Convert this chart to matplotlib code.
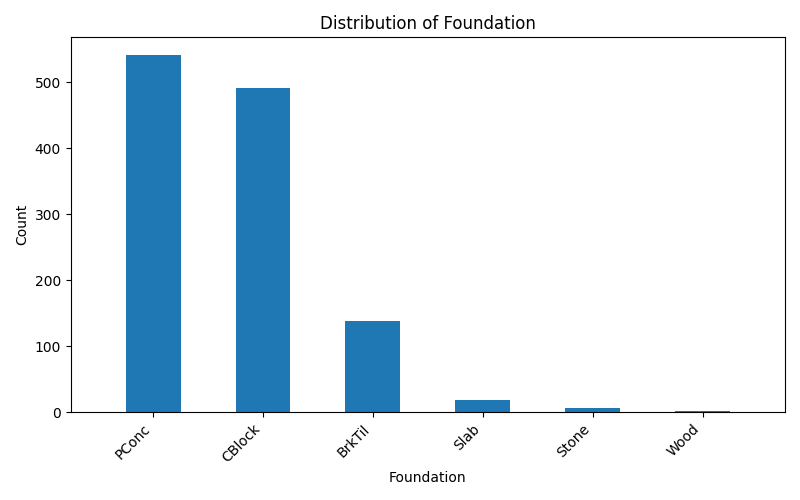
import matplotlib
matplotlib.use("Agg")
import matplotlib.pyplot as plt

categories = ["PConc", "CBlock", "BrkTil", "Slab", "Stone", "Wood"]
counts = [541, 491, 138, 19, 6, 2]

fig, ax = plt.subplots(figsize=(8, 5), dpi=100)
ax.bar(range(len(categories)), counts, width=0.5, color="#1f77b4")
ax.set_xticks(range(len(categories)))
ax.set_xticklabels(categories, rotation=45, ha="right")
ax.set_xlim(-0.75, len(categories) - 0.25)
ax.set_title("Distribution of Foundation")
ax.set_xlabel("Foundation")
ax.set_ylabel("Count")
fig.tight_layout()
fig.savefig("out.png")
